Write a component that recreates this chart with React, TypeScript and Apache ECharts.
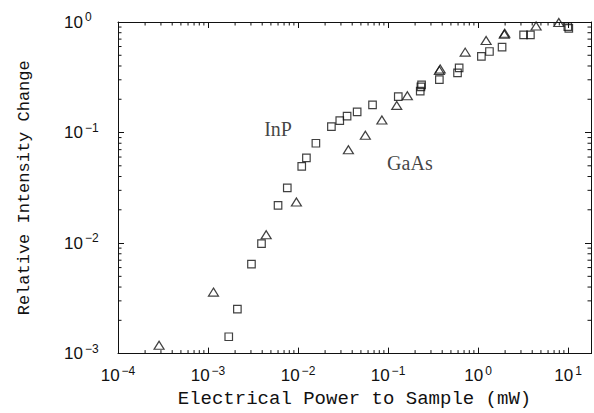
import React, { useEffect, useRef } from 'react';
import * as echarts from 'echarts';

// Axis extents
const X_MIN = 1e-4;
const X_MAX = 18;
const Y_MIN = 1e-3;
const Y_MAX = 1;

// InP (squares)
const inpPower = [1.70e-3, 2.12e-3, 3.04e-3, 3.93e-3, 6.0e-3, 7.6e-3, 1.10e-2, 1.24e-2, 1.58e-2, 2.35e-2, 2.91e-2, 3.51e-2, 4.54e-2, 6.73e-2, 0.130, 0.228, 0.232, 0.236, 0.372, 0.592, 0.617, 1.09, 1.34, 1.85, 3.21, 3.82, 9.95, 10.2];
const inpChange = [1.42e-3, 2.53e-3, 6.46e-3, 9.9e-3, 2.19e-2, 3.16e-2, 4.95e-2, 5.9e-2, 8.0e-2, 0.113, 0.128, 0.141, 0.154, 0.178, 0.211, 0.237, 0.259, 0.270, 0.301, 0.346, 0.384, 0.488, 0.541, 0.593, 0.764, 0.764, 0.908, 0.877];

// GaAs (triangles)
const gaasPower = [2.86e-4, 1.15e-3, 4.43e-3, 9.6e-3, 3.63e-2, 5.6e-2, 8.55e-2, 0.125, 0.164, 0.372, 0.380, 0.72, 1.23, 1.96, 1.98, 4.42, 7.9];
const gaasChange = [1.19e-3, 3.6e-3, 1.19e-2, 2.35e-2, 6.98e-2, 9.46e-2, 0.130, 0.176, 0.215, 0.365, 0.376, 0.534, 0.68, 0.775, 0.79, 0.92, 0.99];

// Minor tick multipliers per decade, and decades
const minorMultipliers = [2, 3, 4, 5, 6, 7, 8, 9];
const xDecades = [-4, -3, -2, -1, 0, 1];
const yDecades = [-3, -2, -1];

const xTitle = 'Electrical Power to Sample (mW)';
const yTitle = 'Relative Intensity Change';

const annotationText = ['InP', 'GaAs'];
const annotationX = [6.0e-3, 0.175];
const annotationY = [0.107, 0.053];

const INK = '#111111';
const LABEL_FONT = "'Liberation Sans', Arial, sans-serif";
const TITLE_FONT = "'Liberation Mono', 'Courier New', monospace";

function minorValues(decades: number[], lo: number, hi: number) {
  const out: number[] = [];
  decades.forEach((d) => {
    minorMultipliers.forEach((m) => {
      const v = m * Math.pow(10, d);
      if (v > lo && v < hi) out.push(v);
    });
  });
  return out;
}

function powLabel(v: number) {
  const lg = Math.log10(v);
  const e = Math.round(lg);
  if (Math.abs(lg - e) > 0.01) return '';
  const s = e < 0 ? '\u2212' + Math.abs(e) : String(e);
  return '{b|10}{s|' + s + '}';
}

const labelRich = {
  b: { fontSize: 17, fontFamily: LABEL_FONT, color: INK },
  s: { fontSize: 12, fontFamily: LABEL_FONT, color: INK, padding: [0, 0, 10, 2] },
};

export default function App() {
  const ref = useRef<HTMLDivElement>(null);
  useEffect(() => {
    if (!ref.current) return;
    const chart = echarts.init(ref.current, undefined, { renderer: 'svg' });
    const xMinor = minorValues(xDecades, X_MIN, X_MAX);
    const yMinor = minorValues(yDecades, Y_MIN, Y_MAX);
    const tickStyle = { stroke: INK, lineWidth: 1 };
    const MINOR = 3.5;

    const baseX = {
      type: 'log',
      logBase: 10,
      min: X_MIN,
      max: X_MAX,
      interval: 1,
      gridIndex: 0,
      splitLine: { show: false },
      axisLine: { show: true, lineStyle: { color: INK, width: 1 } },
      axisTick: { show: true, inside: true, length: 6, lineStyle: { color: INK, width: 1 } },
      minorTick: { show: false },
    };
    const baseY = {
      type: 'log',
      logBase: 10,
      min: Y_MIN,
      max: Y_MAX,
      interval: 1,
      gridIndex: 0,
      splitLine: { show: false },
      axisLine: { show: true, lineStyle: { color: INK, width: 1 } },
      axisTick: { show: true, inside: true, length: 6, lineStyle: { color: INK, width: 1 } },
      minorTick: { show: false },
    };

    chart.setOption({
      animation: false,
      backgroundColor: '#ffffff',
      grid: { left: 118, right: 3, top: 22, bottom: 57, containLabel: false },
      xAxis: [
        {
          ...baseX,
          position: 'bottom',
          name: xTitle,
          nameLocation: 'middle',
          nameGap: 34,
          nameTextStyle: { fontFamily: TITLE_FONT, fontSize: 19, color: INK },
          axisLabel: { show: true, margin: 11, formatter: powLabel, rich: labelRich, showMaxLabel: true, showMinLabel: true },
        },
        { ...baseX, position: 'top', axisLabel: { show: false } },
      ],
      yAxis: [
        {
          ...baseY,
          position: 'left',
          name: yTitle,
          nameLocation: 'middle',
          nameGap: 85,
          nameRotate: 90,
          nameTextStyle: { fontFamily: TITLE_FONT, fontSize: 17, color: INK },
          axisLabel: { show: true, align: 'left', margin: 54, formatter: powLabel, rich: labelRich },
        },
        { ...baseY, position: 'right', axisLabel: { show: false } },
      ],
      series: [
        {
          type: 'custom',
          silent: true,
          xAxisIndex: 0,
          yAxisIndex: 0,
          clip: false,
          data: xMinor.map((v) => [v, Y_MIN]),
          renderItem: (_p: any, api: any) => {
            const x = api.value(0);
            const b = api.coord([x, Y_MIN]);
            const t = api.coord([x, Y_MAX]);
            return {
              type: 'group',
              children: [
                { type: 'line', shape: { x1: b[0], y1: b[1], x2: b[0], y2: b[1] - MINOR }, style: tickStyle },
                { type: 'line', shape: { x1: t[0], y1: t[1], x2: t[0], y2: t[1] + MINOR }, style: tickStyle },
              ],
            };
          },
        },
        {
          type: 'custom',
          silent: true,
          xAxisIndex: 0,
          yAxisIndex: 0,
          clip: false,
          data: yMinor.map((v) => [X_MIN, v]),
          renderItem: (_p: any, api: any) => {
            const y = api.value(1);
            const l = api.coord([X_MIN, y]);
            const r = api.coord([X_MAX, y]);
            return {
              type: 'group',
              children: [
                { type: 'line', shape: { x1: l[0], y1: l[1], x2: l[0] + MINOR, y2: l[1] }, style: tickStyle },
                { type: 'line', shape: { x1: r[0], y1: r[1], x2: r[0] - MINOR, y2: r[1] }, style: tickStyle },
              ],
            };
          },
        },
        {
          name: 'InP',
          type: 'scatter',
          xAxisIndex: 0,
          yAxisIndex: 0,
          symbol: 'rect',
          symbolSize: 7.5,
          itemStyle: { color: 'rgba(255,255,255,0)', borderColor: INK, borderWidth: 1.2 },
          data: inpPower.map((x, i) => [x, inpChange[i]]),
        },
        {
          name: 'GaAs',
          type: 'scatter',
          xAxisIndex: 0,
          yAxisIndex: 0,
          symbol: 'triangle',
          symbolSize: [10, 8],
          itemStyle: { color: 'rgba(255,255,255,0)', borderColor: INK, borderWidth: 1.2 },
          data: gaasPower.map((x, i) => [x, gaasChange[i]]),
        },
        {
          name: 'labels',
          type: 'scatter',
          xAxisIndex: 0,
          yAxisIndex: 0,
          symbolSize: 0,
          silent: true,
          label: {
            show: true,
            position: 'inside',
            formatter: (p: any) => annotationText[p.dataIndex],
            fontFamily: "'Liberation Serif', 'Times New Roman', serif",
            fontSize: 20,
            color: INK,
          },
          data: annotationX.map((x, i) => [x, annotationY[i]]),
        },
      ],
    });
    return () => chart.dispose();
  }, []);
  return <div ref={ref} style={{ position: 'absolute', left: 0, top: 0, width: 594, height: 413 }} />;
}
